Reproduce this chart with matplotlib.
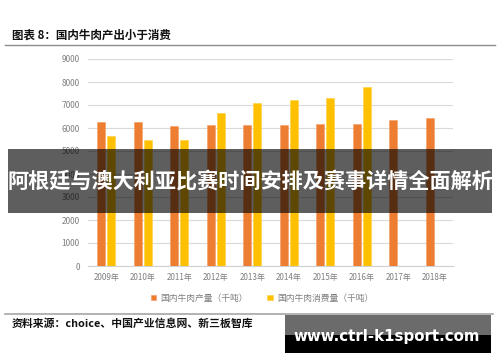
import numpy as np
import matplotlib
matplotlib.use("Agg")
import matplotlib.pyplot as plt
from matplotlib.patches import Rectangle
from matplotlib.lines import Line2D

plt.rcParams['font.family'] = ['Noto Sans CJK SC', 'DejaVu Sans']

years = ["2009年", "2010年", "2011年", "2012年", "2013年",
         "2014年", "2015年", "2016年", "2017年", "2018年"]
production = [6250, 6270, 6100, 6130, 6130, 6130, 6160, 6160, 6350, 6420]
consumption = [5640, 5480, 5480, 6660, 7070, 7220, 7290, 7800, np.nan, np.nan]
yticks = [0, 1000, 2000, 3000, 4000, 5000, 6000, 7000, 8000, 9000]

W, H = 500, 362
fig = plt.figure(figsize=(W / 100, H / 100), dpi=100)


def fx(px):
    return px / W


def fy(py):
    return 1 - py / H


ax = fig.add_axes([fx(88), fy(266), fx(453) - fx(88), fy(59) - fy(266)])
x = np.arange(len(years))
w = 0.22
b1 = ax.bar(x - 0.14, production, w, color="#ED7D31", edgecolor="#F4A46E",
            linewidth=0.5, label="国内牛肉产量（千吨）", zorder=3)
b2 = ax.bar(x + 0.14, consumption, w, color="#FFC000", edgecolor="#FFD34D",
            linewidth=0.5, label="国内牛肉消费量（千吨）", zorder=3)

ax.set_xlim(-0.5, len(years) - 0.5)
ax.set_ylim(0, 9000)
ax.set_yticks(yticks)
ax.set_yticklabels([str(v) for v in yticks], fontsize=6, color="#7f7f7f")
ax.set_xticks(x)
ax.set_xticklabels(years, fontsize=5.8, color="#7f7f7f")
ax.tick_params(length=0, pad=5)
ax.tick_params(axis="y", pad=6)
ax.grid(axis="y", color="#d9d9d9", linewidth=0.8, zorder=0)
for s in ["top", "right", "left"]:
    ax.spines[s].set_visible(False)
ax.spines["bottom"].set_color("#d0d0d0")
ax.spines["bottom"].set_linewidth(0.8)

fig.legend(handles=[b1, b2], loc="center", bbox_to_anchor=(fx(262), fy(298)),
           ncol=2, frameon=False, fontsize=6.3, handlelength=0.6,
           handleheight=0.6, handletextpad=0.5, columnspacing=2.2,
           labelcolor="#7f7f7f")

# header / footer
fig.text(fx(12), fy(35), "图表 8：国内牛肉产出小于消费", fontsize=8.3,
         fontweight="heavy", va="center", ha="left", color="#111111")
fig.add_artist(Line2D([fx(5), fx(495)], [fy(44.5), fy(44.5)],
                      color="#8c8c8c", linewidth=1))
fig.add_artist(Line2D([fx(5), fx(493)], [fy(313.5), fy(313.5)],
                      color="#a6a6a6", linewidth=1.2))
fig.text(fx(12), fy(323.5), "资料来源：choice、中国产业信息网、新三板智库",
         fontsize=7.8, fontweight="heavy", va="center", ha="left", color="#111111")

# banner
fig.add_artist(Rectangle((fx(8), fy(213)), fx(492) - fx(8), fy(149) - fy(213),
                         facecolor="black", alpha=0.63, edgecolor="none",
                         transform=fig.transFigure, zorder=5))
fig.text(fx(250), fy(181), "阿根廷与澳大利亚比赛时间安排及赛事详情全面解析",
         fontsize=15.2, fontweight="bold", color="white", ha="center",
         va="center", zorder=6)

# watermark
fig.add_artist(Rectangle((fx(285), fy(335)), fx(491) - fx(285), fy(315) - fy(335),
                         facecolor="#6b6b6b", edgecolor="none",
                         transform=fig.transFigure, zorder=5))
fig.add_artist(Rectangle((fx(285), fy(353)), fx(491) - fx(285), fy(335) - fy(353),
                         facecolor="black", edgecolor="none",
                         transform=fig.transFigure, zorder=5))
fig.text(fx(387), fy(337), "www.ctrl-k1sport.com", fontsize=10.8,
         fontweight="bold", color="white", ha="center", va="center",
         family="DejaVu Sans", zorder=6)

fig.savefig("out.png", dpi=100)
